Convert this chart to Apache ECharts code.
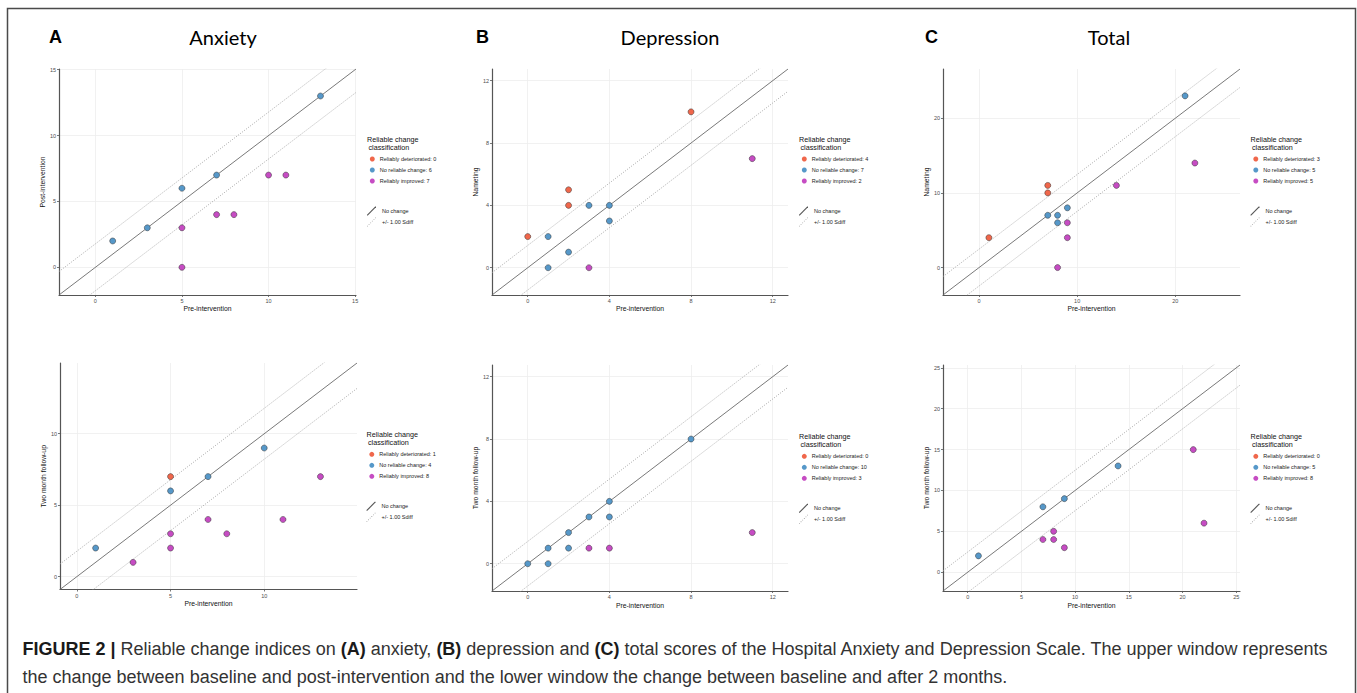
<!DOCTYPE html>
<html><head><meta charset="utf-8">
<script src="https://cdn.jsdelivr.net/npm/echarts@6/dist/echarts.min.js"></script>
<style>html,body{margin:0;padding:0;background:#fff}#c{width:1357px;height:693px}</style>
</head><body><div id="c"></div>
<script>
// ---------- DATA ----------
const classNames = ['Reliably deteriorated', 'No reliable change', 'Reliably improved'];

// (A) Anxiety, post-intervention
const anxPostDet = [];
const anxPostNone = [[1,2],[3,3],[5,6],[7,7],[13,13]];
const anxPostImp = [[5,3],[5,0],[7,4],[8,4],[10,7],[11,7]];
const anxPostCounts = [0, 6, 7];
// (B) Depression, post-intervention
const depPostDet = [[0,2],[2,5],[2,4],[8,10]];
const depPostNone = [[1,2],[1,0],[2,1],[3,4],[4,4],[4,3]];
const depPostImp = [[3,0],[11,7]];
const depPostCounts = [4, 7, 2];
// (C) Total, post-intervention
const totPostDet = [[1,4],[7,11],[7,10]];
const totPostNone = [[7,7],[8,7],[8,6],[9,8],[21,23]];
const totPostImp = [[9,6],[9,4],[8,0],[14,11],[22,14]];
const totPostCounts = [3, 5, 5];
// (A) Anxiety, two month follow-up
const anxFupDet = [[5,7]];
const anxFupNone = [[1,2],[5,6],[7,7],[10,9]];
const anxFupImp = [[3,1],[5,3],[5,2],[7,4],[8,3],[11,4],[13,7]];
const anxFupCounts = [1, 4, 8];
// (B) Depression, two month follow-up
const depFupDet = [];
const depFupNone = [[0,0],[1,1],[1,0],[2,2],[2,1],[3,3],[4,4],[4,3],[8,8]];
const depFupImp = [[3,1],[4,1],[11,2]];
const depFupCounts = [0, 10, 3];
// (C) Total, two month follow-up
const totFupDet = [];
const totFupNone = [[1,2],[7,8],[9,9],[14,13]];
const totFupImp = [[7,4],[8,5],[8,4],[9,3],[21,15],[22,6]];
const totFupCounts = [0, 5, 8];

// reliable-change band half widths (1.00 Sdiff) per scale
const bandAnx = 1.78, bandDep = 1.43, bandTot = 2.47;

// axis ranges and tick labels
const anxRangePost = [-2.1, 15.05], anxTicksPost = [0,5,10,15];
const depRange = [-1.75, 12.75], depTicks = [0,4,8,12];
const totRangePost = [-3.68, 26.6], totTicksPost = [0,10,20];
const anxRangeFup = [-0.9, 14.95], anxTicksFup = [0,5,10];
const totRangeFup = [-2.3, 25.35], totTicksFup = [0,5,10,15,20,25];

// ---------- LAYOUT / STYLE ----------
const colors = ['#F0674B', '#5698C9', '#C64CC3'];
const FONT = 'Liberation Sans';
const panels = [
  {grid:{left:59,top:69,width:297,height:226}, range:anxRangePost, ticks:anxTicksPost, yName:'Post-intervention', yGap:11.5, xGap:9.5,
   sets:[anxPostDet,anxPostNone,anxPostImp], counts:anxPostCounts, band:bandAnx, lx:367, ly:139},
  {grid:{left:492,top:69,width:296,height:226}, range:depRange, ticks:depTicks, yName:'Nameting', yGap:11.5, xGap:9.5,
   sets:[depPostDet,depPostNone,depPostImp], counts:depPostCounts, band:bandDep, lx:799, ly:139},
  {grid:{left:943,top:69,width:297,height:226}, range:totRangePost, ticks:totTicksPost, yName:'Nameting', yGap:10.5, xGap:9.5,
   sets:[totPostDet,totPostNone,totPostImp], counts:totPostCounts, band:bandTot, lx:1250.5, ly:139},
  {grid:{left:60,top:363,width:297,height:226.5}, range:anxRangeFup, ticks:anxTicksFup, yName:'Two month follow-up', yGap:13.5, xGap:10.5,
   sets:[anxFupDet,anxFupNone,anxFupImp], counts:anxFupCounts, band:bandAnx, lx:366.5, ly:434.3},
  {grid:{left:492,top:365,width:296,height:226}, range:depRange, ticks:depTicks, yName:'Two month follow-up', yGap:11.5, xGap:10.5,
   sets:[depFupDet,depFupNone,depFupImp], counts:depFupCounts, band:bandDep, lx:799, ly:436.3},
  {grid:{left:943,top:365,width:297,height:226}, range:totRangeFup, ticks:totTicksFup, yName:'Two month follow-up', yGap:10.5, xGap:10.5,
   sets:[totFupDet,totFupNone,totFupImp], counts:totFupCounts, band:bandTot, lx:1250.5, ly:436.3}
];

let dotPath = 'path://';
for (let i = 0; i < 6; i++) { const x = i * 1.82; dotPath += `M${x},${10-x}L${x+0.9},${10-x}L${x+0.9},${9.1-x}L${x},${9.1-x}Z`; }
const solidPath = 'path://M0,10L0.9,10L10,0.9L10,0L9.1,0L0,9.1Z';

const grids = [], xAxes = [], yAxes = [], series = [], legends = [], graphics = [];

function axis(p, i, isX) {
  return {
    type:'value', gridIndex:i, min:p.range[0], max:p.range[1],
    name: isX ? 'Pre-intervention' : p.yName, nameLocation:'middle', nameGap: isX ? p.xGap : p.yGap,
    nameTextStyle:{fontSize:6.8, color:'#111', fontFamily:FONT},
    axisLine:{show:true, onZero:false, lineStyle:{color:'#555', width:1.2}},
    axisTick:{show:true, length:2, customValues:p.ticks, lineStyle:{color:'#555', width:0.8}},
    axisLabel:{customValues:p.ticks, fontSize:5.5, color:'#4d4d4d', margin:3, fontFamily:FONT},
    splitLine:{show:true, lineStyle:{color:'#eeeeee', width:0.8}}
  };
}

panels.forEach((p, i) => {
  grids.push(Object.assign({outerBoundsMode:'none', containLabel:false}, p.grid));
  xAxes.push(axis(p, i, true));
  yAxes.push(axis(p, i, false));
  const lo = p.range[0], hi = p.range[1];
  // reference lines
  series.push({type:'line', name:'No change', xAxisIndex:i, yAxisIndex:i, data:[[lo,lo],[hi,hi]],
    symbol:'none', clip:true, silent:true, lineStyle:{color:'#6a6a6a', width:0.9}, itemStyle:{color:'#555'}, z:2});
  [p.band, -p.band].forEach(b => {
    series.push({type:'line', name:'+/- 1.00 Sdiff', xAxisIndex:i, yAxisIndex:i, data:[[lo,lo+b],[hi,hi+b]],
      symbol:'none', clip:true, silent:true, lineStyle:{color:'#a0a0a0', width:0.9, type:[1,1.5]}, itemStyle:{color:'#a0a0a0'}, z:2});
  });
  const names = [];
  p.sets.forEach((d, k) => {
    const nm = classNames[k] + ': ' + p.counts[k];
    names.push(nm);
    series.push({type:'scatter', name:nm, xAxisIndex:i, yAxisIndex:i, data:d, symbolSize:6,
      itemStyle:{color:colors[k], borderColor:'#333', borderWidth:0.5, opacity:1}, z:5});
  });
  legends.push({orient:'vertical', left:p.lx+2.8, top:p.ly+20-3.5, padding:0, itemWidth:5, itemHeight:5, itemGap:4,
    icon:'circle', selectedMode:false, itemStyle:{borderWidth:0},
    textStyle:{fontSize:5.5, lineHeight:7, color:'#222', fontFamily:FONT}, data:names});
  legends.push({orient:'vertical', left:p.lx, top:p.ly+72-4.5, padding:0, itemWidth:11, itemHeight:9, itemGap:2,
    selectedMode:false, textStyle:{fontSize:5.5, lineHeight:7, color:'#222', fontFamily:FONT},
    data:[{name:'No change', icon:solidPath, itemStyle:{color:'#555', borderWidth:0}},
          {name:'+/- 1.00 Sdiff', icon:dotPath, itemStyle:{color:'#999', borderWidth:0}}]});
  graphics.push({type:'text', x:p.lx, y:p.ly, style:{text:'Reliable change', fontSize:7.2, fill:'#111', fontFamily:FONT, verticalAlign:'middle'}});
  graphics.push({type:'text', x:p.lx+1.5, y:p.ly+8, style:{text:'classification', fontSize:7.2, fill:'#111', fontFamily:FONT, verticalAlign:'middle'}});
});

// panel letters and titles
[['A',49,'Anxiety',223],['B',476,'Depression',670],['C',925,'Total',1109]].forEach(t => {
  graphics.push({type:'text', x:t[1], y:37, style:{text:t[0], fontSize:18, fontWeight:'bold', fill:'#000', fontFamily:FONT, verticalAlign:'middle'}});
  graphics.push({type:'text', x:t[3], y:37, style:{text:t[2], fontSize:20, fill:'#000', fontFamily:'Lato', align:'center', verticalAlign:'middle'}});
});
// frame
graphics.push({type:'rect', shape:{x:7.5, y:8.5, width:1348, height:800}, style:{fill:'none', stroke:'#4a4a4a', lineWidth:1.5}, silent:true});
// caption
graphics.push({type:'text', x:22.5, y:649, style:{
  text:'{b|FIGURE 2 |} Reliable change indices on {b|(A)} anxiety, {b|(B)} depression and {b|(C)} total scores of the Hospital Anxiety and Depression Scale. The upper window represents',
  fontSize:18, fill:'#333', fontFamily:FONT, verticalAlign:'middle',
  rich:{b:{fontSize:18, fontWeight:'bold', fill:'#1a1a1a', fontFamily:FONT}}}});
graphics.push({type:'text', x:22.5, y:677, style:{
  text:'the change between baseline and post-intervention and the lower window the change between baseline and after 2 months.',
  fontSize:18, fill:'#333', fontFamily:FONT, verticalAlign:'middle'}});

const chart = echarts.init(document.getElementById('c'), null, {renderer:'svg', width:1357, height:693});
chart.setOption({
  animation:false, backgroundColor:'#fff',
  grid:grids, xAxis:xAxes, yAxis:yAxes, series:series, legend:legends, graphic:graphics
});
</script></body></html>
